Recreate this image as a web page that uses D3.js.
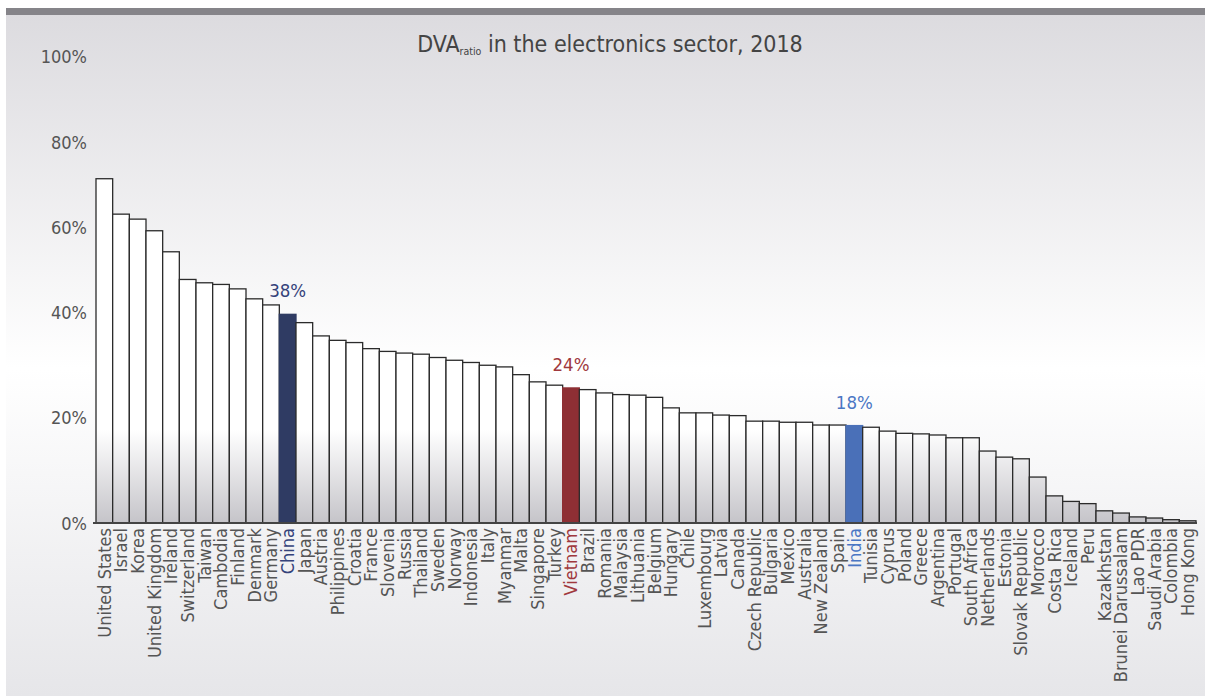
<!DOCTYPE html>
<html lang="en">
	<head>
		<meta charset="utf-8">
		<title>DVA ratio in the electronics sector, 2018</title>
		<script type="text/javascript" src="https://cdn.jsdelivr.net/npm/d3@7"></script>
		<style type="text/css">
			body { margin: 0; background: #fff; }
			text { font-family: "DejaVu Sans Condensed", "DejaVu Sans", sans-serif; }
		</style>
	</head>
	<body>
		<script type="text/javascript">

			/* data */
			var countries = ["United States", "Israel", "Korea", "United Kingdom", "Ireland", "Switzerland",
				"Taiwan", "Cambodia", "Finland", "Denmark", "Germany", "China", "Japan", "Austria",
				"Philippines", "Croatia", "France", "Slovenia", "Russia", "Thailand", "Sweden", "Norway",
				"Indonesia", "Italy", "Myanmar", "Malta", "Singapore", "Turkey", "Vietnam", "Brazil",
				"Romania", "Malaysia", "Lithuania", "Belgium", "Hungary", "Chile", "Luxembourg", "Latvia",
				"Canada", "Czech Republic", "Bulgaria", "Mexico", "Australia", "New Zealand", "Spain",
				"India", "Tunisia", "Cyprus", "Poland", "Greece", "Argentina", "Portugal", "South Africa",
				"Netherlands", "Estonia", "Slovak Republic", "Morocco", "Costa Rica", "Iceland", "Peru",
				"Kazakhstan", "Brunei Darussalam", "Lao PDR", "Saudi Arabia", "Colombia", "Hong Kong"];

			var dvaRatio = [62.2, 55.8, 54.9, 52.8, 49.0, 44.0,
				43.4, 43.1, 42.3, 40.5, 39.4, 37.7, 36.2, 33.8,
				33.0, 32.6, 31.5, 31.0, 30.7, 30.5, 29.9, 29.4,
				29.0, 28.5, 28.2, 26.8, 25.5, 24.9, 24.4, 24.1,
				23.5, 23.2, 23.1, 22.7, 20.8, 19.9, 19.9, 19.5,
				19.4, 18.4, 18.4, 18.2, 18.2, 17.7, 17.7,
				17.6, 17.3, 16.6, 16.2, 16.1, 15.9, 15.4, 15.4,
				13.0, 11.9, 11.6, 8.3, 4.9, 3.9, 3.5,
				2.2, 1.8, 1.1, 0.9, 0.6, 0.4];

			var highlighted = ["China", "Vietnam", "India"];
			var highlightFill = ["#2f3b63", "#8e2f34", "#4a70b8"];
			var highlightText = ["#34427a", "#a0383d", "#4a76c4"];

			var tickValues = [0, 20, 40, 60, 80, 100];
			// where the original puts its axis labels (not evenly spaced)
			var tickPositions = [523, 417, 312, 227, 142, 56];

			/* initial set up */
			var w = 1206;
			var h = 696;
			var baseY = 523;

			var svg = d3.select("body")
						.append("svg")
						.attr("width", w)
						.attr("height", h);

			var defs = svg.append("defs");

			var bg = defs.append("linearGradient")
				.attr("id", "bgGrad")
				.attr("x1", 0).attr("y1", 0).attr("x2", 0).attr("y2", 1);
			bg.append("stop").attr("offset", "0%").attr("stop-color", "#dcdbdf");
			bg.append("stop").attr("offset", "52%").attr("stop-color", "#ffffff");
			bg.append("stop").attr("offset", "100%").attr("stop-color", "#e6e6e9");

			var barGrad = defs.append("linearGradient")
				.attr("id", "barGrad")
				.attr("gradientUnits", "userSpaceOnUse")
				.attr("x1", 0).attr("y1", 430).attr("x2", 0).attr("y2", baseY);
			barGrad.append("stop").attr("offset", "0%").attr("stop-color", "#ffffff");
			barGrad.append("stop").attr("offset", "100%").attr("stop-color", "#c5c4c9");

			/* background panel and top band */
			svg.append("rect")
				.attr("x", 6).attr("y", 14)
				.attr("width", w - 7).attr("height", h - 14)
				.attr("fill", "url(#bgGrad)");

			svg.append("rect")
				.attr("x", 6).attr("y", 8)
				.attr("width", w - 7).attr("height", 7)
				.attr("fill", "#858489");

			/* scales */
			var xScale = d3.scaleBand()
				.domain(countries)
				.range([96, 1196])
				.padding(0);

			var yScale = d3.scaleLinear()
				.domain([0, 100])
				.range([baseY, baseY - 553.5]);

			var tickScale = d3.scaleLinear()
				.domain(tickValues)
				.range(tickPositions);

			var colorOf = function(name, list, fallback) {
				var k = highlighted.indexOf(name);
				return k < 0 ? fallback : list[k];
			};

			/* bars */
			svg.selectAll("rect.bar")
				.data(dvaRatio)
				.enter()
				.append("rect")
				.attr("class", "bar")
				.attr("x", function(d, i) { return xScale(countries[i]); })
				.attr("y", function(d) { return yScale(d); })
				.attr("width", xScale.bandwidth())
				.attr("height", function(d) { return baseY - yScale(d); })
				.attr("fill", function(d, i) { return colorOf(countries[i], highlightFill, "url(#barGrad)"); })
				.attr("stroke", function(d, i) { return colorOf(countries[i], highlightFill, "#2b2b2b"); })
				.attr("stroke-width", 1.3);

			/* value labels on the highlighted bars */
			svg.selectAll("text.value")
				.data(highlighted)
				.enter()
				.append("text")
				.attr("class", "value")
				.attr("x", function(d) { return xScale(d) + xScale.bandwidth() / 2; })
				.attr("y", function(d) { return yScale(dvaRatio[countries.indexOf(d)]) - 17; })
				.attr("text-anchor", "middle")
				.attr("font-size", 18.5)
				.attr("fill", function(d, i) { return highlightText[i]; })
				.text(function(d) { return Math.round(dvaRatio[countries.indexOf(d)]) + "%"; });

			/* baseline */
			svg.append("line")
				.attr("x1", 93).attr("x2", 1197)
				.attr("y1", baseY).attr("y2", baseY)
				.attr("stroke", "#444")
				.attr("stroke-width", 2.2);

			/* y axis labels */
			var yAxis = svg.append("g")
				.attr("transform", "translate(87,0)")
				.call(d3.axisLeft(tickScale)
					.tickValues(tickValues)
					.tickSize(0)
					.tickPadding(0)
					.tickFormat(function(d) { return d + "%"; }));
			yAxis.select(".domain").remove();
			yAxis.selectAll("text")
				.attr("font-size", 18)
				.attr("fill", "#555")
				.attr("dy", "0.36em")
				.style("font-family", null);
			yAxis.attr("font-family", null);

			/* x axis labels, rotated */
			var xAxis = svg.append("g")
				.attr("transform", "translate(0," + baseY + ")")
				.call(d3.axisBottom(xScale).tickSize(0).tickPadding(0));
			xAxis.select(".domain").remove();
			xAxis.attr("font-family", null);
			xAxis.selectAll("text")
				.attr("transform", "rotate(-90)")
				.attr("x", -5)
				.attr("y", 0)
				.attr("dy", "0.36em")
				.attr("text-anchor", "end")
				.attr("font-size", 18)
				.attr("fill", function(d) { return colorOf(d, highlightText, "#555"); });

			/* title */
			var title = svg.append("text")
				.attr("x", 610)
				.attr("y", 52)
				.attr("text-anchor", "middle")
				.attr("font-size", 23)
				.attr("fill", "#444");
			title.append("tspan").text("DVA");
			title.append("tspan")
				.attr("font-size", 10.5)
				.attr("dy", 3)
				.text("ratio");
			title.append("tspan")
				.attr("dy", -3)
				.text(" in the electronics sector, 2018");

		</script>
	</body>
</html>
